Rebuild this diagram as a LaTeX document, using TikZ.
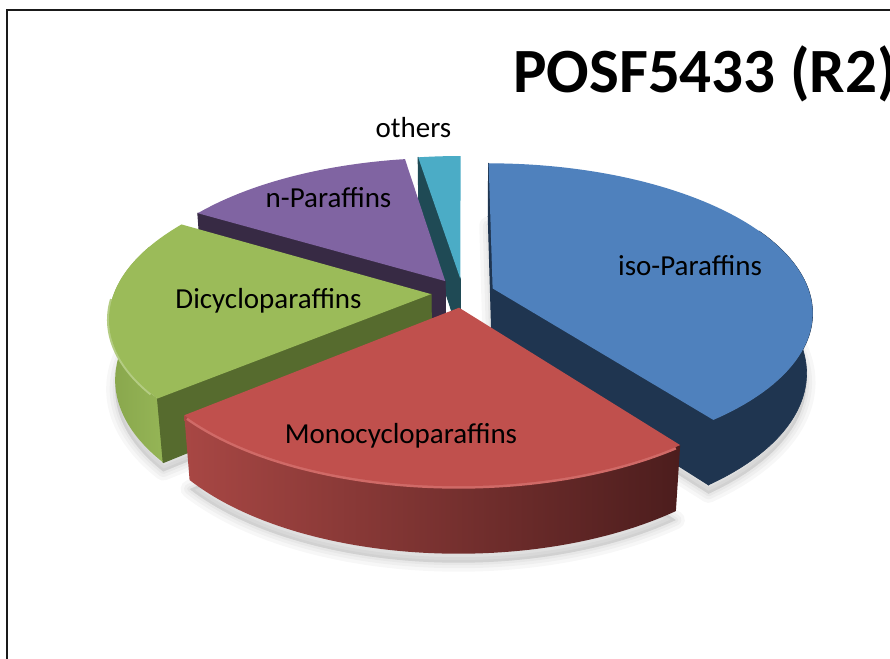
\documentclass[tikz,border=0pt]{standalone}
\usepackage{fontspec}
\setmainfont{Carlito}

\definecolor{isoTop}{HTML}{4F81BD}
\definecolor{isoWall}{HTML}{1F3550}
\definecolor{monoTop}{HTML}{C0504D}
\definecolor{monoRim}{HTML}{D06A67}
\definecolor{monoSideL}{HTML}{A84744}
\definecolor{monoSideR}{HTML}{4C1D1D}
\definecolor{diTop}{HTML}{9BBB59}
\definecolor{diWall}{HTML}{566B2E}
\definecolor{diSideL}{HTML}{88A64C}
\definecolor{diSideR}{HTML}{95B556}
\definecolor{nTop}{HTML}{8064A2}
\definecolor{nWall}{HTML}{372A44}
\definecolor{othTop}{HTML}{4BACC6}
\definecolor{othWall}{HTML}{1F4A55}
\definecolor{frameLine}{HTML}{1A1A1A}

% pie thickness (in units of the radius)
\newcommand\pieH{0.215}

% start/end angle of a slice and its explosion offset
\newcommand\setslice[2]{%
  \pgfmathsetmacro\angA{#1}%
  \pgfmathsetmacro\angB{#2}%
  \pgfmathsetmacro\offX{0.1*cos((#1+#2)/2)}%
  \pgfmathsetmacro\offZ{0.1*sin((#1+#2)/2)}}

% top face of the current slice
\newcommand\slicetop[1]{%
  \fill[#1] ({sx(\offX,\offZ,0)},{sy(\offX,\offZ,0)})
    -- plot[domain=\angA:\angB,samples=81,variable=\t]
       ({sx(\offX+cos(\t),\offZ+sin(\t),0)},{sy(\offX+cos(\t),\offZ+sin(\t),0)})
    -- cycle;}

% outer curved side between two angles
\newcommand\sliceside[3]{%
  \path[#1] plot[domain=#2:#3,samples=81,variable=\t]
       ({sx(\offX+cos(\t),\offZ+sin(\t),0)},{sy(\offX+cos(\t),\offZ+sin(\t),0)})
    -- plot[domain=#3:#2,samples=81,variable=\t]
       ({sx(\offX+cos(\t),\offZ+sin(\t),-\pieH)},{sy(\offX+cos(\t),\offZ+sin(\t),-\pieH)})
    -- cycle;}

% highlight along the upper edge of the curved side
\newcommand\slicerim[3]{%
  \draw[#1] plot[domain=#2:#3,samples=81,variable=\t]
       ({sx(\offX+cos(\t),\offZ+sin(\t),0)},{sy(\offX+cos(\t),\offZ+sin(\t),0)});}

% flat radial wall at one angle
\newcommand\slicewall[2]{%
  \filldraw[fill=#1, draw=#1, line width=1pt, line join=round]
       ({sx(\offX,\offZ,0)},{sy(\offX,\offZ,0)})
    -- ({sx(\offX+cos(#2),\offZ+sin(#2),0)},{sy(\offX+cos(#2),\offZ+sin(#2),0)})
    -- ({sx(\offX+cos(#2),\offZ+sin(#2),-\pieH)},{sy(\offX+cos(#2),\offZ+sin(#2),-\pieH)})
    -- ({sx(\offX,\offZ,-\pieH)},{sy(\offX,\offZ,-\pieH)}) -- cycle;}

% soft shadow under the bottom face
\newcommand\sliceshadow{%
  \foreach \lw in {18,11,5}{%
    \path[yshift=-9pt, draw=black, draw opacity=0.03, fill=black, fill opacity=0.03,
          line width=\lw pt, line join=round]
      ({sx(\offX,\offZ,-\pieH)},{sy(\offX,\offZ,-\pieH)})
      -- plot[domain=\angA:\angB,samples=61,variable=\t]
         ({sx(\offX+cos(\t),\offZ+sin(\t),-\pieH)},{sy(\offX+cos(\t),\offZ+sin(\t),-\pieH)})
      -- cycle;}}

\begin{document}
\begin{tikzpicture}[x=1pt,y=-1pt,
  declare function={
    dn(\xa,\za,\ya)=1+0.155*\za-0.0803*\ya;
    sx(\xa,\za,\ya)=462.7+317*\xa/dn(\xa,\za,\ya);
    sy(\xa,\za,\ya)=293-(145.8*\za+281.5*\ya)/dn(\xa,\za,\ya);
  },
  lbl/.style={font=\fontsize{29}{34}\selectfont, anchor=base, inner sep=0pt},
  ttl/.style={font=\fontsize{63}{70}\selectfont\bfseries, anchor=base west, inner sep=0pt}]

\useasboundingbox (0,0) rectangle (890,658);
\fill[white] (0,0) rectangle (890,658);

% frame
\draw[frameLine, line width=2pt] (7,700) -- (7,10) -- (900,10);

% shadows
\setslice{220}{149}\sliceshadow
\setslice{90}{-53}\sliceshadow
\setslice{-53}{-140}\sliceshadow

% others
\setslice{99}{90}
\slicewall{othWall}{99}
\slicetop{othTop}

% n-Paraffins
\setslice{149}{99}
\slicewall{nWall}{149}
\slicetop{nTop}

% Dicycloparaffins
\setslice{220}{149}
\sliceside{shade, left color=diSideL, right color=diSideR}{220}{160}
\slicerim{diTop!75!white, line width=4pt}{218}{182}
\slicewall{diWall}{220}
\slicetop{diTop}

% iso-Paraffins
\setslice{90}{-53}
\sliceside{fill=isoWall, draw=isoWall, line width=0.6pt}{-53}{25}
\slicewall{isoWall}{-53}
\slicewall{isoWall}{90}
\slicetop{isoTop}

% Monocycloparaffins
\setslice{-53}{-140}
\sliceside{shade, left color=monoSideL, right color=monoSideR}{-53}{-140}
\slicerim{monoRim, line width=5pt}{-54}{-139}
\slicetop{monoTop}

% labels
\node[lbl] (iso) at (690,275) {iso-Paraffins};
\node[lbl] (mono) at (401,443) {Monocycloparaffins};
\node[lbl] (di) at (268.5,308) {Dicycloparaffins};
\node[lbl] (npar) at (328.5,207) {n-Paraffins};
\node[lbl] (oth) at (413.5,137) {others};
\node[ttl] (title) at (513,93) {POSF5433 (R2)};
\end{tikzpicture}
\end{document}
